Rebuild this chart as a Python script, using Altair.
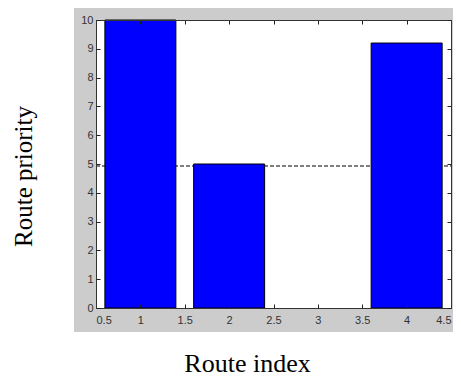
import altair as alt
import pandas as pd

# ---- data ----
routes = [1, 2, 3, 4]
priority = [10, 5, 0, 9.2]
threshold = [4.93]
x_ticks = [0.5, 1, 1.5, 2, 2.5, 3, 3.5, 4, 4.5]
y_ticks = [0, 1, 2, 3, 4, 5, 6, 7, 8, 9, 10]
x_domain = [0.5, 4.5]
y_domain = [0, 10]

W, H = 355, 288
df = pd.DataFrame({"route": routes, "priority": priority})
thr = pd.DataFrame({"x0": [x_domain[0]], "x1": [x_domain[1]], "y": threshold})

xs = alt.Scale(domain=x_domain, nice=False, zero=False)
ys = alt.Scale(domain=y_domain, nice=False)

LBL = dict(labelFont="Liberation Sans", labelFontSize=11, labelColor="#333333")
DOM = dict(domainColor="#333333", domainWidth=1, tickColor="#222222", tickWidth=1)

# figure-like gray panel and white axes area (decoration)
gray = alt.Chart(alt.Data(values=[{}])).mark_rect(color="#cccccc").encode(
    x=alt.value(-22), x2=alt.value(365), y=alt.value(-12), y2=alt.value(312)
)
white = alt.Chart(alt.Data(values=[{}])).mark_rect(color="white").encode(
    x=alt.value(0), x2=alt.value(W), y=alt.value(0), y2=alt.value(H)
)

# dashed threshold line; carries the top / right tick axes
rule = alt.Chart(thr).mark_rule(color="black", strokeDash=[4, 2], strokeWidth=1.2).encode(
    x=alt.X("x0:Q", scale=xs, axis=alt.Axis(orient="bottom", offset=-H, values=x_ticks,
                                            labels=False, ticks=True, tickSize=4, domain=True,
                                            grid=False, title="", zindex=1, **DOM)),
    x2="x1:Q",
    y=alt.Y("y:Q", scale=ys, axis=alt.Axis(orient="left", offset=-W, values=y_ticks,
                                           labels=False, ticks=True, tickSize=4, domain=True,
                                           grid=False, title="", zindex=1, **DOM)),
)

bars = alt.Chart(df).transform_filter("datum.priority > 0").transform_calculate(
    x0="datum.route - 0.4", x1="datum.route + 0.4"
).mark_rect(color="#0000ff", stroke="black", strokeWidth=1).encode(
    x=alt.X("x0:Q", scale=xs, axis=alt.Axis(
        orient="bottom", values=x_ticks, format="~g", ticks=False, domain=True, grid=False,
        labelPadding=6, labelBaseline="top", zindex=1,
        title="Route index", titleFont="Liberation Serif", titleFontSize=26,
        titleFontWeight="normal", titleColor="black", titleX=151, titleY=63,
        titleAlign="center", titleBaseline="alphabetic", titleAnchor="start",
        **LBL, **DOM)),
    x2="x1:Q",
    y=alt.Y("priority:Q", scale=ys, axis=alt.Axis(
        orient="left", values=y_ticks, ticks=False, domain=True, grid=False,
        labelPadding=3, zindex=1,
        title="Route priority", titleFont="Liberation Serif", titleFontSize=25,
        titleFontWeight="normal", titleColor="black", titleX=-65, titleY=156,
        titleAngle=270, titleAlign="center", titleBaseline="alphabetic", titleAnchor="start",
        **LBL, **DOM)),
    y2=alt.datum(0),
)

# invisible layer carrying the inward ticks on bottom / left edges
ghost = alt.Chart(df).mark_point(opacity=0).encode(
    x=alt.X("route:Q", scale=xs, axis=alt.Axis(orient="top", offset=-H, values=x_ticks,
                                               labels=False, ticks=True, tickSize=4, domain=False,
                                               grid=False, title="", zindex=1, **DOM)),
    y=alt.Y("priority:Q", scale=ys, axis=alt.Axis(orient="right", offset=-W, values=y_ticks,
                                                  labels=False, ticks=True, tickSize=4, domain=False,
                                                  grid=False, title="", zindex=1, **DOM)),
)

chart = alt.layer(gray, white, rule, bars, ghost).resolve_axis(
    x="independent", y="independent"
).properties(
    width=W, height=H,
    autosize=alt.AutoSizeParams(type="none"),
    padding={"left": 88, "top": 12, "right": 2, "bottom": 69},
    background="white",
).configure_view(stroke="transparent")

chart.save("out.html", embed_options={"renderer": "svg", "actions": False})
